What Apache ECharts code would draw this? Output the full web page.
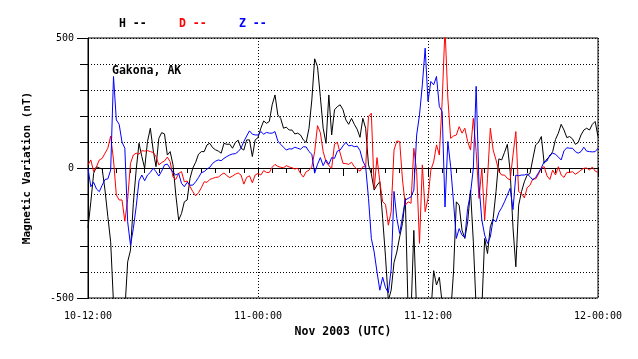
<!DOCTYPE html>
<html><head><meta charset="utf-8">
<script src="https://cdn.jsdelivr.net/npm/echarts@6/dist/echarts.min.js"></script>
<style>html,body{margin:0;padding:0;background:#fff}#c{width:638px;height:359px}</style>
</head><body><div id="c"></div>
<script>
// Sample spacing (hours) from 10-12:00 UTC
const stepHours = 0.2;
const xTickLabels = {0: '10-12:00', 12: '11-00:00', 24: '11-12:00', 36: '12-00:00'};
const yTickLabels = {'-500': '-500', '0': '0', '500': '500'};
const hValues = [
 -230,-130,-20,5,0,-3,-85,-187,-284,-520, -550,-550,-550,-550,-361,-316,-136,-8,95,44, -1,102,153,69,5,114,136,131,50,63,
 12,-104,-200,-175,-130,-123,-40,0,22,53, 63,63,89,95,78,70,65,57,95,91, 92,76,98,107,76,69,108,108,44,108,
 117,153,181,172,179,243,281,204,191,153, 157,146,146,131,134,127,108,98,153,262, 420,390,275,153,95,281,127,224,236,243,
 224,185,168,191,168,149,118,191,153,12, -23,-85,-66,-53,-194,-342,-510,-470,-364,-323, -265,-213,-117,-560,-560,-240,-560,-560,-560,-560,
 -560,-560,-395,-450,-420,-520,-560,-560,-560,-400, -130,-143,-239,-271,-207,-85,-284,-540,-560,-540, -271,-329,-226,-194,-91,35,31,60,91,-14,
 -230,-380,-143,-91,-53,-27,-21,35,89,99, 121,18,35,45,63,110,134,168,146,117, 121,112,91,98,127,146,153,146,168,179, 121
];
const dValues = [
 12,31,-14,5,31,37,57,76,123,31, -104,-123,-123,-205,-120,18,50,57,53,67, 65,67,63,60,44,12,21,27,42,24,
 -35,-44,-21,-14,-53,-50,-71,-91,-107,-95, -76,-53,-55,-44,-40,-36,-35,-26,-19,-29, -37,-31,-24,-19,-27,-62,-36,-30,-57,-27,
 -21,-27,-10,-17,-17,3,14,6,3,1, 9,4,1,-4,-1,-21,-35,-14,-9,5, 63,163,136,63,24,9,-1,92,99,57,
 18,17,14,22,5,-5,-12,5,5,198, 211,-80,40,-53,-130,-140,-220,-168,69,104, 102,-46,-143,-130,-136,76,-14,-290,12,-168,
 -117,-8,24,89,50,256,540,269,114,123, 127,159,134,153,102,69,191,63,-117,-1, -200,-40,153,69,31,-12,-27,-27,-40,-46,
 50,140,-91,-98,-115,-76,-66,-42,-42,-24, 1,5,-30,-44,-8,-27,5,-27,-36,-17, -17,-14,-24,-17,-8,-1,0,-8,4,-12, -17
];
const zValues = [
 -1,-72,-55,-81,-91,-66,-44,-42,-8,352, 185,168,100,76,-207,-297,-233,-149,-49,-27, -49,-27,-17,-1,-14,-31,-12,12,15,-1,
 -17,-27,-21,-59,-72,-55,-66,-66,-53,-37, -18,-14,-4,3,18,26,31,28,37,44, 50,54,55,63,76,102,123,143,130,127,
 127,140,130,137,134,134,140,104,91,80, 69,74,73,80,76,72,82,81,63,53, -20,14,40,9,31,14,40,37,65,69,
 85,99,85,87,82,84,67,27,5,-117, -271,-323,-400,-470,-420,-460,-480,-390,-90,-194, -252,-188,-123,-117,-111,-85,127,204,320,461,
 256,333,320,352,236,217,-150,102,5,-130, -271,-233,-258,-268,-155,-98,-1,314,-66,-200, -258,-290,-265,-197,-207,-171,-153,-130,-104,-78,
 -160,-27,-30,-27,-27,-23,-33,-46,-36,-18, 1,24,27,50,57,53,42,31,66,78, 76,76,63,57,63,80,65,63,62,63, 76
];
const seriesNames = ['H', 'D', 'Z'];
const seriesColors = ['#000000', '#ff0000', '#0000ff'];
const stationName = 'Gakona, AK';

const mono = "'DejaVu Sans Mono', monospace";
const toPairs = vals => vals.map((v, i) => [Math.round(i * stepHours * 100) / 100, v]);
const chart = echarts.init(document.getElementById('c'), null, {renderer: 'canvas'});
const allVals = [hValues, dValues, zValues];
chart.setOption({
  animation: false,
  backgroundColor: '#ffffff',
  grid: {left: 88, right: 40, top: 38, bottom: 61, show: true, borderColor: '#000', borderWidth: 1, backgroundColor: 'transparent'},
  xAxis: [
    {type: 'value', min: 0, max: 36, interval: 1,
     axisLine: {show: true, lineStyle: {color: '#000', width: 1}},
     axisTick: {show: true, length: 5, lineStyle: {color: '#000'}},
     axisLabel: {show: true, margin: 13, color: '#000', fontFamily: mono, fontSize: 10,
       formatter: v => xTickLabels[v] || ''},
     splitLine: {show: false},
     name: 'Nov 2003 (UTC)', nameLocation: 'middle', nameGap: 26,
     nameTextStyle: {color: '#000', fontFamily: mono, fontSize: 11.5, fontWeight: 'bold'}},
    {type: 'value', min: 0, max: 36, interval: 6, position: 'bottom',
     axisLine: {show: false}, axisTick: {show: true, length: 8, lineStyle: {color: '#000'}},
     axisLabel: {show: false}, splitLine: {show: false}},
    {type: 'value', min: 0, max: 36, interval: 12, position: 'bottom',
     axisLine: {show: false}, axisTick: {show: false}, axisLabel: {show: false},
     splitLine: {show: true, lineStyle: {color: '#000', width: 1, type: [1, 2]}}}
  ],
  yAxis: [
    {type: 'value', min: -500, max: 500, interval: 100,
     axisLine: {show: true, lineStyle: {color: '#000'}},
     axisTick: {show: true, length: 8, lineStyle: {color: '#000'}},
     axisLabel: {show: false},
     splitLine: {show: true, lineStyle: {color: '#000', width: 1, type: [1, 2]}},
     name: 'Magnetic Variation (nT)', nameLocation: 'middle', nameGap: 55,
     nameTextStyle: {color: '#000', fontFamily: mono, fontSize: 11, fontWeight: 'bold'}},
    {type: 'value', min: -500, max: 500, interval: 500, position: 'left',
     axisLine: {show: false}, axisTick: {show: true, length: 11, lineStyle: {color: '#000'}},
     axisLabel: {show: true, margin: 14, color: '#000', fontFamily: mono, fontSize: 10,
       formatter: v => yTickLabels[String(v)] || ''},
     splitLine: {show: false}}
  ],
  graphic: [
    ...seriesNames.map((n, i) => ({type: 'text', left: 119 + 60 * i, top: 18, silent: true,
      style: {text: n + ' --', fill: seriesColors[i], font: 'bold 11.5px ' + mono}})),
    {type: 'text', left: 112, top: 65, silent: true,
     style: {text: stationName, fill: '#000', font: 'bold 11.5px ' + mono}}
  ],
  series: allVals.map((vals, i) => ({
    name: seriesNames[i], type: 'line', data: toPairs(vals), xAxisIndex: 0, yAxisIndex: 0,
    showSymbol: false, symbol: 'none', clip: true,
    lineStyle: {color: seriesColors[i], width: 1}, itemStyle: {color: seriesColors[i]}
  }))
});
</script></body></html>
